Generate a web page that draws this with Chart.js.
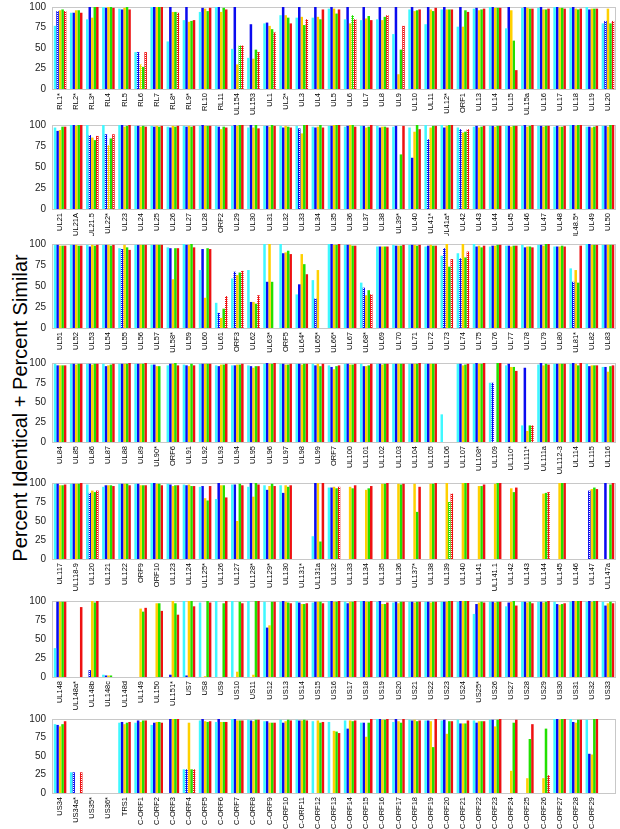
<!DOCTYPE html>
<html>
<head>
<meta charset="utf-8">
<script src="https://cdn.jsdelivr.net/npm/chart.js@4.4.1/dist/chart.umd.min.js"></script>
<style>
  body { margin: 0; background: #fff; width: 620px; height: 829px; position: relative; overflow: hidden;
         font-family: "Liberation Sans", Arial, sans-serif; }
  canvas { position: absolute; left: 28px; }
  #ytitle { position: absolute; left: 20px; top: 408px; transform: translate(-50%, -50%) rotate(-90deg);
            font-size: 20px; white-space: nowrap; color: #000; }
</style>
</head>
<body>
<div id="ytitle">Percent Identical + Percent Similar</div>
<script>
// panel 1
const labels1 = ['RL1*','RL2*','RL3*','RL4','RL5','RL6','RL7','RL8*','RL9*','RL10','RL11','UL154','UL153','UL1','UL2*','UL3','UL4','UL5','UL6','UL7','UL8','UL9','UL10','UL11','UL12*','ORF1','UL13','UL14','UL15','UL15a','UL16','UL17','UL18','UL19','UL20'];
const cyan1 = [77,93,85,100,98,45,100,58,84,94,100,49,38,80,90,87,87,98,85,84,85,67,97,79,97,76,98,100,74,99,99,100,99,100,80];
const blue1 = [95,93,100,99,97,45,100,100,100,99,100,100,79,81,100,100,100,100,100,100,100,100,100,100,100,100,99,100,100,100,100,100,100,97,83];
const yellow1 = [96,96,87,100,99,30,100,94,82,98,94,30,37,77,90,88,88,98,80,86,84,18,95,97,97,76,96,99,96,99,97,99,98,98,98];
const green1 = [97,96,100,100,100,27,100,94,83,95,99,53,48,73,87,78,85,92,90,89,88,48,96,95,97,96,97,99,59,98,97,99,97,98,80];
const red1 = [95,93,100,99,97,45,100,93,84,99,97,53,45,69,80,85,97,97,85,84,90,77,97,99,97,94,98,99,23,98,98,98,98,98,83];

// panel 2
const labels2 = ['UL21','UL21A','UL21.5','UL22*','UL23','UL24','UL25','UL26','UL27','UL28','ORF2','UL29','UL30','UL31','UL32','UL33','UL34','UL35','UL36','UL37','UL38','UL39*','UL40','UL41*','UL41a*','UL42','UL43','UL44','UL45','UL46','UL47','UL48','UL48.5*','UL49','UL50'];
const cyan2 = [97,100,100,100,100,99,99,98,99,99,99,99,97,99,99,99,98,99,98,99,99,98,97,100,100,97,98,99,99,99,99,98,100,98,99];
const blue2 = [93,100,88,89,100,99,98,97,98,100,98,100,100,99,97,96,97,99,99,99,97,99,61,83,97,95,99,99,99,100,99,99,100,98,99];
const yellow2 = [94,99,85,76,98,98,99,99,99,99,95,99,97,98,99,90,98,100,100,97,98,0,92,97,99,91,97,98,98,98,98,98,99,97,98];
const green2 = [98,100,82,84,99,99,98,98,98,99,98,100,100,100,98,100,100,100,100,98,98,65,100,99,100,92,98,99,99,99,99,98,100,98,100];
const red2 = [98,100,87,89,100,98,99,99,99,99,97,100,96,99,97,100,97,100,98,100,97,99,95,99,100,95,99,99,99,100,99,99,100,99,100];

// panel 3
const labels3 = ['UL51','UL52','UL53','UL54','UL55','UL56','UL57','UL58*','UL59','UL60','UL61','ORF3','UL62','UL63*','ORF5','UL64*','UL65*','UL66*','UL67','UL68*','UL69','UL70','UL71','UL72','UL73','UL74','UL75','UL76','UL77','UL78','UL79','UL80','UL81*','UL82','UL83'];
const cyan3 = [99,99,99,99,95,99,99,96,100,69,30,59,69,100,100,40,57,100,99,54,97,99,99,97,86,89,100,97,98,99,99,97,71,100,99];
const blue3 = [99,99,97,99,94,99,99,95,99,94,18,67,31,55,89,52,35,100,99,48,97,98,99,98,95,83,97,98,98,96,99,97,55,100,99];
const yellow3 = [98,99,99,99,99,99,99,58,99,36,12,63,31,100,90,88,69,99,99,39,97,98,99,99,100,100,98,98,97,97,98,97,69,99,99];
const green3 = [98,98,98,98,96,99,99,95,100,95,23,66,29,55,92,76,0,99,98,45,97,98,98,98,73,84,96,99,98,97,100,98,54,99,99];
const red3 = [98,98,99,99,93,99,99,95,96,94,38,68,39,0,88,64,0,100,98,40,97,99,99,98,82,91,98,99,98,96,100,97,98,99,99];

// panel 4
const labels4 = ['UL84','UL85','UL86','UL87','UL88','UL89','UL90*','ORF6','UL91','UL92','UL93','UL94','UL95','UL96','UL97','UL98','UL99','ORF7','UL100','UL101','UL102','UL103','UL104','UL105','UL106','UL107','UL108*','UL109','UL110*','UL111*','UL111a','UL112-3','UL114','UL115','UL116'];
const cyan4 = [99,99,99,99,99,99,98,97,98,99,97,97,97,99,99,99,99,97,99,99,99,99,99,99,35,99,99,75,97,21,98,99,99,99,95];
const blue4 = [97,99,99,96,99,99,98,99,97,99,96,97,96,100,99,99,97,95,99,96,99,99,99,99,0,99,100,75,99,94,100,99,100,96,95];
const yellow4 = [97,98,98,97,99,99,96,99,96,99,98,98,94,99,98,98,99,92,98,96,98,99,99,99,0,97,99,0,95,14,97,99,99,97,89];
const green4 = [97,99,99,98,99,99,96,100,99,99,98,98,96,99,98,99,96,96,98,97,99,99,99,99,0,98,99,100,95,21,99,99,97,97,96];
const red4 = [97,99,99,99,100,100,0,97,97,99,99,99,96,100,99,99,99,97,99,99,99,99,100,99,0,99,100,100,90,21,98,99,100,97,97];

// panel 5
const labels5 = ['UL117','UL118-9','UL120','UL121','UL122','ORF9','ORF10','UL123','UL124','UL125*','UL126','UL127','UL128*','UL129*','UL130','UL131*','UL131a','UL132','UL133','UL134','UL135','UL136','UL137*','UL138','UL139','UL140','UL141','UL141.1','UL142','UL143','UL144','UL145','UL146','UL147','UL147a'];
const cyan5 = [99,99,98,95,99,99,100,99,98,95,79,98,95,97,97,0,30,94,0,0,0,0,0,0,0,0,0,0,0,0,0,0,0,0,0];
const blue5 = [99,99,87,97,99,99,100,98,97,96,100,98,100,91,87,0,100,94,0,0,0,0,0,0,0,0,0,0,0,0,0,0,0,90,100];
const yellow5 = [97,99,90,97,99,97,99,96,98,80,97,50,82,96,97,0,100,95,95,91,99,99,99,99,100,100,96,99,93,0,86,100,0,92,0];
const green5 = [97,99,88,97,99,97,99,97,96,77,97,99,100,99,95,0,23,93,93,93,99,98,62,99,75,100,96,100,88,0,87,100,0,94,98];
const red5 = [98,100,90,96,97,97,97,97,96,96,81,97,98,96,97,0,100,95,97,96,100,99,95,100,86,100,98,100,94,0,88,100,0,92,100];

// panel 6
const labels6 = ['UL148','UL148a*','UL148b','UL148c','UL148d','UL149','UL150','UL151*','US7','US8','US9','US10','US11','US12','US13','US14','US15','US16','US17','US18','US19','US20','US21','US22','US23','US24','US25*','US26','US27','US28','US29','US30','US31','US32','US33'];
const cyan6 = [38,0,0,3,0,0,0,0,100,98,100,100,100,99,99,100,98,100,99,100,99,98,99,99,99,99,83,99,93,99,99,99,99,99,99];
const blue6 = [99,0,9,2,0,0,0,3,2,0,0,0,0,65,100,98,99,100,97,100,100,99,99,99,99,100,96,99,98,99,99,96,100,100,94];
const yellow6 = [99,0,100,2,0,90,97,100,100,1,0,7,3,68,99,96,99,99,99,99,96,97,98,98,99,100,98,98,99,98,98,95,100,99,97];
const green6 = [99,0,98,2,0,86,97,97,100,100,97,99,100,99,98,96,99,99,99,99,96,99,99,99,100,100,99,99,100,99,99,96,100,100,99];
const red6 = [99,92,100,0,0,91,87,82,93,98,100,97,100,99,97,97,97,100,100,100,98,99,99,99,100,100,98,99,94,97,100,97,100,100,97];

// panel 7 (last slot is empty)
const labels7 = ['US34','US34a*','US35*','US36*','TRS1','C-ORF1','C-ORF2','C-ORF3','C-ORF4','C-ORF5','C-ORF6','C-ORF7','C-ORF8','C-ORF9','C-ORF10','C-ORF11','C-ORF12','C-ORF13','C-ORF14','C-ORF15','C-ORF16','C-ORF17','C-ORF18','C-ORF19','C-ORF20','C-ORF21','C-ORF22','C-ORF23','C-ORF24','C-ORF25','C-ORF26','C-ORF27','C-ORF28','C-ORF29',''];
const cyan7 = [93,28,0,0,95,95,92,0,32,98,96,100,99,97,99,99,97,96,98,95,100,96,99,98,98,99,98,99,0,0,0,100,100,99,null];
const blue7 = [92,28,0,0,96,98,95,100,32,100,100,100,98,97,95,98,0,0,87,95,100,100,98,98,99,94,95,99,0,0,0,100,96,53,null];
const yellow7 = [90,0,0,0,93,96,96,100,95,97,96,98,97,95,97,98,98,84,98,76,99,97,99,97,80,94,97,90,30,20,20,99,95,52,null];
const green7 = [93,0,0,0,95,98,96,100,32,96,96,98,99,95,99,99,95,83,97,95,99,95,97,62,97,94,97,99,95,73,87,100,99,100,null];
const red7 = [97,28,0,0,96,98,95,100,32,97,96,98,99,95,98,98,96,81,98,100,100,100,98,100,97,98,97,100,99,93,24,100,99,100,null];

// genes drawn with the dotted fill, per series
const blueDotted = ['RL1*','RL6','UL20','UL21.5','UL22*','UL33','UL41*','UL42','UL55','UL61','ORF3','UL65*','UL68*','UL73','UL74','UL81*','UL109','UL120','UL147','UL148b','US34a*','C-ORF4'];
const redDotted = ['RL1*','RL6','RL8*','UL154','UL153','UL1','UL3','UL6','UL8','UL9','UL20','UL21.5','UL22*','UL42','UL61','ORF3','UL62','UL68*','UL73','UL74','UL111*','UL120','UL132','UL139','UL144','US34a*','C-ORF4','C-ORF26'];
const greenDotted = ['UL154','UL6','UL139'];
const yellowDotted = ['RL6','UL22*'];

const yTicks = [0, 25, 50, 75, 100];

// page layout: y of the 100 line and of the 0 line in each panel
const plotTop = [7, 125, 244, 363, 483, 601, 719];
const plotBottom = [89, 209, 328, 442, 559, 677, 793];

function dots(color) {
  const c = document.createElement('canvas');
  c.width = 2; c.height = 2;
  const g = c.getContext('2d');
  g.fillStyle = color; g.fillRect(0, 0, 2, 2);
  g.fillStyle = '#fff'; g.fillRect(1, 0, 1, 1);
  return g.createPattern(c, 'repeat');
}

function fill(color, marked) {
  const pat = dots(color);
  return (c) => marked.includes(c.chart.data.labels[c.dataIndex]) ? pat : color;
}

const frame = {
  id: 'frame',
  beforeDatasetsDraw(chart) {
    const { ctx, chartArea: a } = chart;
    ctx.save();
    ctx.strokeStyle = '#c8c8c8';
    ctx.lineWidth = 1;
    ctx.strokeRect(Math.round(a.left) + 0.5, Math.round(a.top) + 0.5,
                   Math.round(a.right - a.left) - 1, Math.round(a.bottom - a.top));
    ctx.restore();
  }
};

const panels = [
  [labels1, cyan1, blue1, yellow1, green1, red1],
  [labels2, cyan2, blue2, yellow2, green2, red2],
  [labels3, cyan3, blue3, yellow3, green3, red3],
  [labels4, cyan4, blue4, yellow4, green4, red4],
  [labels5, cyan5, blue5, yellow5, green5, red5],
  [labels6, cyan6, blue6, yellow6, green6, red6],
  [labels7, cyan7, blue7, yellow7, green7, red7],
];

const TOP = 8;  // room above the plot for the "100" tick label
const font = '"Liberation Sans", Arial, sans-serif';

panels.forEach((p, i) => {
  const cv = document.createElement('canvas');
  const top = plotTop[i] - TOP;
  const h = Math.min(119, 829 - top);
  cv.width = 592; cv.height = h;
  cv.style.top = top + 'px';
  cv.style.width = '592px'; cv.style.height = h + 'px';
  document.body.appendChild(cv);
  const xh = h - TOP - (plotBottom[i] - plotTop[i]);

  const [labels, cyan, blue, yellow, green, red] = p;
  new Chart(cv, {
    type: 'bar',
    data: {
      labels: labels,
      datasets: [
        { data: cyan, backgroundColor: '#3ff8ff' },
        { data: blue, backgroundColor: fill('#0a0af0', blueDotted) },
        { data: yellow, backgroundColor: fill('#ffd000', yellowDotted) },
        { data: green, backgroundColor: fill('#22e000', greenDotted) },
        { data: red, backgroundColor: fill('#ee1111', redDotted) },
      ],
    },
    options: {
      responsive: false,
      animation: false,
      devicePixelRatio: 1,
      datasets: { bar: { categoryPercentage: 0.78, barPercentage: 1.0, borderWidth: 0 } },
      layout: { padding: { top: TOP, right: 4, left: 0, bottom: 0 } },
      plugins: { legend: { display: false }, tooltip: { enabled: false } },
      scales: {
        x: {
          afterFit: (s) => { s.height = xh; s.paddingLeft = 0; s.paddingRight = 0; },
          grid: { display: false, drawTicks: false },
          border: { display: false },
          ticks: {
            autoSkip: false, maxRotation: 90, minRotation: 90, padding: 4,
            color: '#000', font: { family: font, size: 7.5 },
          },
        },
        y: {
          min: 0, max: 100,
          afterBuildTicks: (s) => { s.ticks = yTicks.map((v) => ({ value: v })); },
          afterFit: (s) => { s.width = 24; s.paddingTop = 0; s.paddingBottom = 0; },
          grid: { display: false, drawTicks: false },
          border: { display: false },
          ticks: {
            padding: 6, color: '#222',
            font: { family: font, size: 10 },
          },
        },
      },
    },
    plugins: [frame],
  });
});
</script>
</body>
</html>
